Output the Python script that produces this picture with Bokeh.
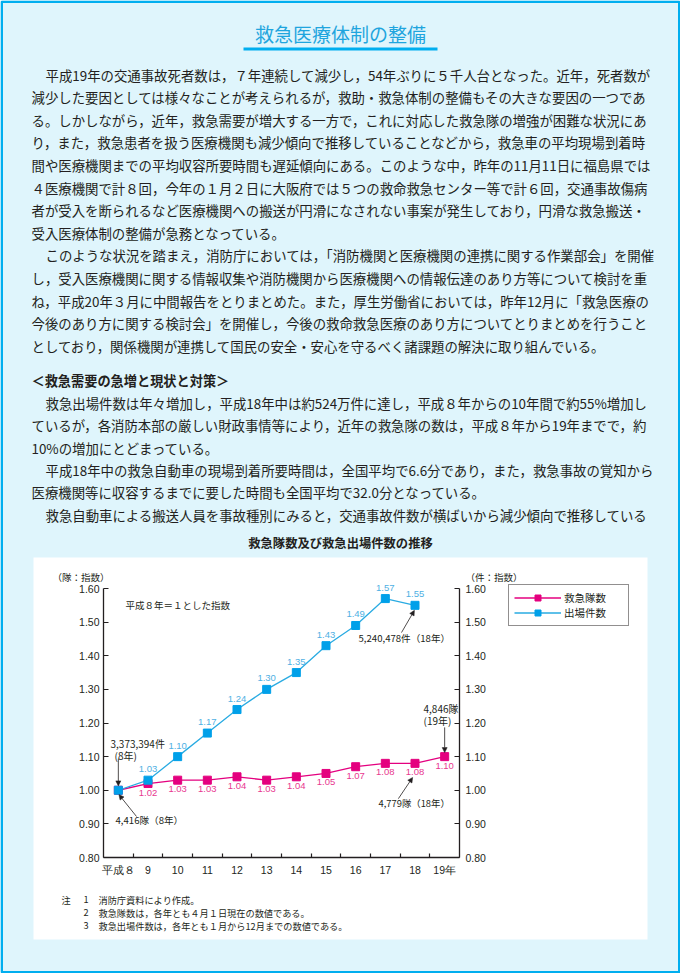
from bokeh.plotting import figure
from bokeh.models import (ColumnDataSource, LinearAxis, FixedTicker, NumeralTickFormatter,
                          Label, LabelSet, BoxAnnotation, Arrow, NormalHead, Legend,
                          LegendItem, Range1d)
from bokeh.core.properties import value
from bokeh.embed import file_html
from bokeh.resources import INLINE

# ---------------- data ----------------
years_team = [8, 9, 10, 11, 12, 13, 14, 15, 16, 17, 18, 19]
team_idx = [1.00, 1.02, 1.03, 1.03, 1.04, 1.03, 1.04, 1.05, 1.07, 1.08, 1.08, 1.10]
years_disp = [8, 9, 10, 11, 12, 13, 14, 15, 16, 17, 18]
disp_idx = [1.00, 1.03, 1.10, 1.17, 1.24, 1.30, 1.35, 1.43, 1.49, 1.57, 1.55]
x_tick_labels = ["平成８", "9", "10", "11", "12", "13", "14", "15", "16", "17", "18", "19年"]
y_ticks = [0.80, 0.90, 1.00, 1.10, 1.20, 1.30, 1.40, 1.50, 1.60]
series_names = ["救急隊数", "出場件数"]

page_title = "救急医療体制の整備"
chart_title = "救急隊数及び救急出場件数の推移"
para_lines = [
    ("平成19年の交通事故死者数は，７年連続して減少し，54年ぶりに５千人台となった。近年，死者数が", True),
    ("減少した要因としては様々なことが考えられるが，救助・救急体制の整備もその大きな要因の一つであ", False),
    ("る。しかしながら，近年，救急需要が増大する一方で，これに対応した救急隊の増強が困難な状況にあ", False),
    ("り，また，救急患者を扱う医療機関も減少傾向で推移していることなどから，救急車の平均現場到着時", False),
    ("間や医療機関までの平均収容所要時間も遅延傾向にある。このような中，昨年の11月11日に福島県では", False),
    ("４医療機関で計８回，今年の１月２日に大阪府では５つの救命救急センター等で計６回，交通事故傷病", False),
    ("者が受入を断られるなど医療機関への搬送が円滑になされない事案が発生しており，円滑な救急搬送・", False),
    ("受入医療体制の整備が急務となっている。", False),
    ("このような状況を踏まえ，消防庁においては，「消防機関と医療機関の連携に関する作業部会」を開催", True),
    ("し，受入医療機関に関する情報収集や消防機関から医療機関への情報伝達のあり方等について検討を重", False),
    ("ね，平成20年３月に中間報告をとりまとめた。また，厚生労働省においては，昨年12月に「救急医療の", False),
    ("今後のあり方に関する検討会」を開催し，今後の救命救急医療のあり方についてとりまとめを行うこと", False),
    ("としており，関係機関が連携して国民の安全・安心を守るべく諸課題の解決に取り組んでいる。", False),
]
section_head = "＜救急需要の急増と現状と対策＞"
para2_lines = [
    ("救急出場件数は年々増加し，平成18年中は約524万件に達し，平成８年からの10年間で約55%増加し", True),
    ("ているが，各消防本部の厳しい財政事情等により，近年の救急隊の数は，平成８年から19年までで，約", False),
    ("10%の増加にとどまっている。", False),
    ("平成18年中の救急自動車の現場到着所要時間は，全国平均で6.6分であり，また，救急事故の覚知から", True),
    ("医療機関等に収容するまでに要した時間も全国平均で32.0分となっている。", False),
    ("救急自動車による搬送人員を事故種別にみると，交通事故件数が横ばいから減少傾向で推移している", True),
]
notes = [("1", "消防庁資料により作成。"),
         ("2", "救急隊数は，各年とも４月１日現在の数値である。"),
         ("3", "救急出場件数は，各年とも１月から12月までの数値である。")]

# ---------------- styles ----------------
INK = "#231f20"
BG = "#dff5fc"
CYAN = "#00aeef"
MAG = "#e4007f"
BLUE_MK = "#00a0e9"
BLUE_LN = "#29abe2"
BLUE_TXT = "#4fb0e3"
MAG_TXT = "#e8388f"
JP = "Noto Sans CJK JP"
NUM = "Liberation Sans"
BODY = "13.4px"

W, H = 680, 973
# pixel box of the chart's plotting area on the page
CX0, CX1, CY0, CY1 = 103, 459, 588, 857
XMIN, XMAX, YMIN, YMAX = 7.5, 19.5, 0.8, 1.6
kx = (XMAX - XMIN) / (CX1 - CX0)
ky = (YMAX - YMIN) / (CY1 - CY0)

p = figure(width=W, height=H, output_backend="svg", toolbar_location=None,
           x_range=Range1d(XMIN - CX0 * kx, XMAX + (W - CX1) * kx),
           y_range=Range1d(YMIN - (H - CY1) * ky, YMAX + CY0 * ky),
           min_border=0, x_axis_location=None, y_axis_location=None)
p.grid.visible = False
p.outline_line_color = None
p.border_fill_color = BG
p.background_fill_color = BG


def sx(X):
    return X


def sy(Y):
    return H - Y


def lab(X, Y, text, size=BODY, color=INK, align="left", bold=False, font=JP, baseline="middle"):
    p.add_layout(Label(x=sx(X), y=sy(Y), x_units="screen", y_units="screen", text=text,
                       text_font=font, text_font_size=size, text_color=color,
                       text_align=align, text_baseline=baseline,
                       text_font_style="bold" if bold else "normal"))


def box(X0, Y0, X1, Y1, fill=None, line=None, lw=1, level="underlay"):
    p.add_layout(BoxAnnotation(left=sx(X0), right=sx(X1), top=sy(Y0), bottom=sy(Y1),
                               left_units="screen", right_units="screen",
                               top_units="screen", bottom_units="screen",
                               fill_color=fill, fill_alpha=1 if fill else 0,
                               line_color=line, line_width=lw, line_alpha=1 if line else 0,
                               level=level))


# white chart panel
box(33, 557, 647, 939, fill="white")
# title underline
box(243, 47, 437, 50, fill=CYAN)
# outer border (canvas edges)
box(1.25, 1.25, W - 1.25, H - 1.25, line=CYAN, lw=2.5, level="overlay")

# page title
lab(340, 33, page_title, size="19px", color="#1fa5de", align="center")

# paragraphs
y0, dy = 74, 22.6
for i, (t, ind) in enumerate(para_lines):
    lab(45 if ind else 31, y0 + i * dy, t)
lab(31, 380, section_head, size="13.2px", bold=True)
y1 = 402.5
for i, (t, ind) in enumerate(para2_lines):
    lab(45 if ind else 31, y1 + i * 22.3, t)

# chart title
lab(340, 542, chart_title, size="12.3px", bold=True, align="center")

# ---------------- chart ----------------
src_team = ColumnDataSource(dict(x=years_team, y=team_idx))
src_disp = ColumnDataSource(dict(x=years_disp, y=disp_idx))

m_line = p.line("x", "y", source=src_team, line_color=MAG, line_width=1.3)
m_sq = p.scatter("x", "y", source=src_team, marker="square", size=8, fill_color=MAG, line_color=MAG)
b_line = p.line("x", "y", source=src_disp, line_color=BLUE_LN, line_width=1.3)
b_sq = p.scatter("x", "y", source=src_disp, marker="square", size=8, fill_color=BLUE_MK, line_color=BLUE_MK)

# data labels
lab_team = ColumnDataSource(dict(x=years_team[1:], y=team_idx[1:], t=[f"{v:.2f}" for v in team_idx[1:]]))
lab_disp = ColumnDataSource(dict(x=years_disp[1:], y=disp_idx[1:], t=[f"{v:.2f}" for v in disp_idx[1:]]))
p.add_layout(LabelSet(x="x", y="y", text="t", source=lab_team, y_offset=-9,
                      text_font=value(NUM), text_font_size="9.5px", text_color=MAG_TXT,
                      text_align="center", text_baseline="middle"))
p.add_layout(LabelSet(x="x", y="y", text="t", source=lab_disp, y_offset=11,
                      text_font=value(NUM), text_font_size="9.5px", text_color=BLUE_TXT,
                      text_align="center", text_baseline="middle"))

# axes (drawn inside the page canvas at fixed data locations)
yfmt = NumeralTickFormatter(format="0.00")
for side, standoff, loc in (("left", 4, XMIN), ("right", 6, XMAX)):
    ax = LinearAxis(ticker=FixedTicker(ticks=y_ticks, minor_ticks=[]), formatter=yfmt,
                    fixed_location=loc, bounds=(YMIN, YMAX),
                    axis_line_color=INK, axis_line_width=1.3,
                    major_tick_line_color=INK, major_tick_line_width=1.2,
                    major_tick_in=5, major_tick_out=0, minor_tick_line_color=None,
                    major_label_standoff=standoff, major_label_text_font=NUM,
                    major_label_text_font_size="10.5px", major_label_text_color=INK)
    p.add_layout(ax, side)

xax = LinearAxis(ticker=FixedTicker(ticks=years_team, minor_ticks=[y + 0.5 for y in years_team[:-1]]),
                 fixed_location=YMIN, bounds=(XMIN, XMAX),
                 major_label_overrides={y: t for y, t in zip(years_team, x_tick_labels)},
                 axis_line_color=INK, axis_line_width=1.3,
                 major_tick_line_color=None,
                 minor_tick_line_color=INK, minor_tick_line_width=1.2,
                 minor_tick_in=4, minor_tick_out=0,
                 major_label_standoff=0, major_label_text_font=NUM,
                 major_label_text_font_size="10.5px", major_label_text_color=INK)
p.add_layout(xax, "below")

# axis unit captions and notes inside chart
lab(52, 576, "（隊：指数）", size="9.5px")
lab(465, 576, "（件：指数）", size="9.5px")
lab(125, 604, "平成８年＝１とした指数", size="9.5px")

# callouts
lab(110, 743, "3,373,394件", size="10px")
lab(114, 755, "(8年)", size="10px")
lab(115, 819, "4,416隊（8年）", size="9.6px")
lab(358, 637, "5,240,478件（18年）", size="9.6px")
lab(423, 708, "4,846隊", size="10px")
lab(423, 720, "(19年)", size="10px")
lab(378, 802, "4,779隊（18年）", size="9.4px")

head = dict(size=5, fill_color=INK, line_color=INK, line_width=0.5)
for xs, ys, xe, ye in [(8, 1.094, 8, 1.013), (8.612, 0.922, 8.02, 0.987),
                       (17.545, 1.469, 17.98, 1.535), (19, 1.187, 19, 1.112),
                       (17.44, 0.975, 17.92, 1.038)]:
    p.add_layout(Arrow(end=NormalHead(**head), x_start=xs, y_start=ys, x_end=xe, y_end=ye,
                       line_color=INK, line_width=0.8))

# legend
legend = Legend(items=[LegendItem(label=series_names[0], renderers=[m_line, m_sq]),
                       LegendItem(label=series_names[1], renderers=[b_line, b_sq])],
                location=(sx(508), sy(626)), orientation="vertical",
                border_line_color=INK, border_line_width=1.2,
                background_fill_color="white", background_fill_alpha=1,
                padding=5, spacing=0, margin=0,
                glyph_width=47, glyph_height=15, label_height=15, label_width=59,
                label_standoff=3, label_text_font=JP, label_text_font_size="10.5px",
                label_text_color=INK)
p.add_layout(legend)

# footnotes
lab(61, 899, "注", size="9.2px")
for i, (n, t) in enumerate(notes):
    lab(83, 899 + i * 13, n, size="9.2px")
    lab(98, 899 + i * 13, t, size="9.2px")

open("out.html", "w").write(file_html(p, INLINE))
